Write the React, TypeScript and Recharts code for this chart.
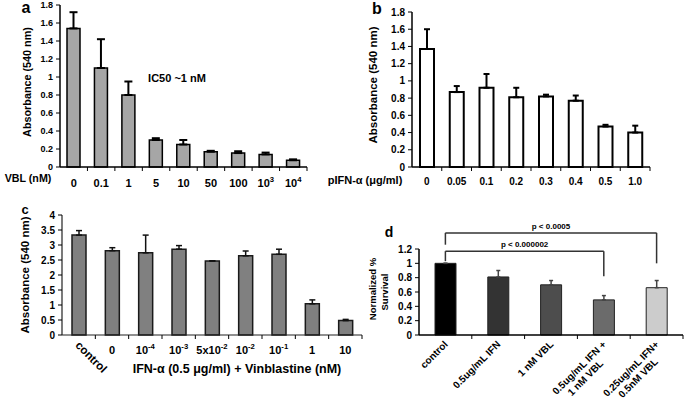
import React from 'react'
import { BarChart, Bar, XAxis, YAxis, ErrorBar, Cell, ReferenceLine } from 'recharts'

const FONT = "'Liberation Sans', Arial, Helvetica, sans-serif"

// a: vinblastine alone
const vblDoses = ['0', '0.1', '1', '5', '10', '50', '100', '10^3', '10^4']
const vblAbs = [1.54, 1.1, 0.8, 0.3, 0.25, 0.17, 0.155, 0.14, 0.075]
const vblSd = [0.18, 0.32, 0.15, 0.02, 0.05, 0.01, 0.02, 0.02, 0.01]
const ticksA = [0, 0.2, 0.4, 0.6, 0.8, 1, 1.2, 1.4, 1.6, 1.8]

// b: pIFN-alpha alone
const ifnDoses = ['0', '0.05', '0.1', '0.2', '0.3', '0.4', '0.5', '1.0']
const ifnAbs = [1.37, 0.87, 0.92, 0.81, 0.82, 0.77, 0.47, 0.4]
const ifnSd = [0.23, 0.07, 0.16, 0.11, 0.02, 0.06, 0.02, 0.08]

// c: IFN 0.5 ug/ml + vinblastine
const comboDoses = ['control', '0', '10^-4', '10^-3', '5x10^-2', '10^-2', '10^-1', '1', '10']
const comboAbs = [3.33, 2.81, 2.74, 2.86, 2.47, 2.64, 2.69, 1.04, 0.48]
const comboSd = [0.15, 0.1, 0.59, 0.12, 0, 0.16, 0.17, 0.13, 0.04]
const ticksC = [0, 0.5, 1, 1.5, 2, 2.5, 3, 3.5, 4]

// d: normalized survival
const survGroups = ['control', '0.5ug/mL IFN', '1 nM VBL', '0.5ug/mL IFN +|1 nM VBL', '0.25ug/mL IFN+|0.5nM VBL']
const survValues = [1.0, 0.81, 0.7, 0.49, 0.66]
const survSd = [0, 0.09, 0.06, 0.06, 0.1]
const survColors = ['#000000', '#333333', '#4d4d4d', '#6b6b6b', '#cccccc']
const ticksD = [0, 0.2, 0.4, 0.6, 0.8, 1, 1.2]

// significance brackets (group indexes, heights in survival units)
const brackets = [
  { from: 0, to: 4, top: 1.425, leftEnd: 1.26, rightEnd: 1.0, text: 'p < 0.0005' },
  { from: 0, to: 3, top: 1.17, leftEnd: 1.03, rightEnd: 0.82, text: 'p < 0.000002' },
]

const dataA = vblDoses.map((dose, i) => ({ dose, value: vblAbs[i], err: [0, vblSd[i]] }))
const dataB = ifnDoses.map((dose, i) => ({ dose, value: ifnAbs[i], err: [0, ifnSd[i]] }))
const dataC = comboDoses.map((dose, i) => ({ dose, value: comboAbs[i], err: [0, comboSd[i]] }))
const dataD = survGroups.map((group, i) => ({ group, value: survValues[i], err: [0, survSd[i]] }))

function DoseTick(props: any) {
  const { x, y, payload, index, dy = 20, size = 10, slantFirst = false } = props
  const half = payload?.offset ?? 0
  const raw = String(payload.value)
  const [base, sup] = raw.split('^')
  const mark = <line x1={x + half} x2={x + half} y1={y} y2={y + 4} stroke="#000" strokeWidth={1} />
  if (slantFirst && index === 0) {
    const ax = x - 4
    const ay = y + 11
    return (
      <g>
        {mark}
        <text x={ax} y={ay} transform={`rotate(45 ${ax} ${ay})`} textAnchor="start" fontSize={size + 0.5}
          fontWeight="bold" fontFamily={FONT} fill="#000">{raw}</text>
      </g>
    )
  }
  return (
    <g>
      {mark}
      <text x={x} y={y + dy} textAnchor="middle" fontSize={size} fontWeight="bold" fontFamily={FONT} fill="#000">
        {base}
        {sup && <tspan fontSize={size * 0.7} dy={-size * 0.45}>{sup}</tspan>}
      </text>
    </g>
  )
}

function SlantTick(props: any) {
  const { x, y, payload } = props
  const half = payload?.offset ?? 0
  const lines = String(payload.value).split('|')
  const ax = x + 3
  const ay = y + 10
  const size = 10
  return (
    <g>
      <line x1={x + half} x2={x + half} y1={y} y2={y + 4} stroke="#000" strokeWidth={1} />
      <text transform={`rotate(-45 ${ax} ${ay})`} textAnchor="end" fontSize={size} fontWeight="bold"
        fontFamily={FONT} fill="#000">
        <tspan x={ax} y={ay}>{lines[0]}</tspan>
        {lines[1] && (
          <tspan x={ax - ((lines[0].length - lines[1].length) * size * 0.52) / 2} y={ay + size * 1.15}>{lines[1]}</tspan>
        )}
      </text>
    </g>
  )
}

function Note({ x, y, size, rotate = 0, children }: any) {
  return (
    <div
      style={{
        position: 'absolute', left: x, top: y, transform: `translate(-50%, -50%) rotate(${rotate}deg)`,
        fontFamily: FONT, fontSize: size, fontWeight: 'bold', whiteSpace: 'nowrap', lineHeight: 1, color: '#000',
      }}
    >
      {children}
    </div>
  )
}

const yTick = (size: number) => ({ fontSize: size, fontWeight: 'bold', fontFamily: FONT, fill: '#000' })
const axisLine = { stroke: '#000', strokeWidth: 1.5 }

export default function App() {
  return (
    <div style={{ position: 'absolute', left: 0, top: 0, width: 685, height: 400, background: '#fff', overflow: 'hidden' }}>
      <div style={{ position: 'absolute', left: 0, top: 0 }}>
        <BarChart width={320} height={200} data={dataA} margin={{ top: 5, right: 13, bottom: 0, left: 0 }}>
          <XAxis dataKey="dose" height={33} interval={0} tickLine={false} tickSize={0} tickMargin={0}
            axisLine={axisLine} tick={(p: any) => <DoseTick {...p} dy={20} size={11} />} />
          <YAxis width={60} domain={[0, 1.8]} ticks={ticksA} interval={0} tickSize={4} tickMargin={3}
            axisLine={axisLine} tickLine={{ stroke: '#000' }} tick={yTick(9)} />
          <Bar dataKey="value" barSize={13} fill="#a6a6a6" stroke="#000" strokeWidth={1.5} isAnimationActive={false}>
            <ErrorBar dataKey="err" width={4} stroke="#000" strokeWidth={2} direction="y" />
          </Bar>
        </BarChart>
      </div>

      <div style={{ position: 'absolute', left: 330, top: 0 }}>
        <BarChart width={355} height={200} data={dataB} margin={{ top: 12, right: 35, bottom: 0, left: 0 }}>
          <XAxis dataKey="dose" height={33} interval={0} tickLine={false} tickSize={0} tickMargin={0}
            axisLine={axisLine} tick={(p: any) => <DoseTick {...p} dy={18} size={10} />} />
          <YAxis width={82} domain={[0, 1.8]} ticks={ticksA} interval={0} tickSize={4} tickMargin={3}
            axisLine={axisLine} tickLine={{ stroke: '#000' }} tick={yTick(10)} />
          <Bar dataKey="value" barSize={14} fill="#ffffff" stroke="#000" strokeWidth={2} isAnimationActive={false}>
            <ErrorBar dataKey="err" width={3} stroke="#000" strokeWidth={2} direction="y" />
          </Bar>
        </BarChart>
      </div>

      <div style={{ position: 'absolute', left: 0, top: 200 }}>
        <BarChart width={380} height={200} data={dataC} margin={{ top: 15, right: 18, bottom: 0, left: 0 }}>
          <XAxis dataKey="dose" height={65} interval={0} tickLine={false} tickSize={0} tickMargin={0}
            axisLine={{ stroke: '#222', strokeWidth: 1.2 }} tick={(p: any) => <DoseTick {...p} dy={19} size={11} slantFirst />} />
          <YAxis width={62} domain={[0, 4]} ticks={ticksC} interval={0} tickSize={4} tickMargin={3}
            axisLine={{ stroke: '#222', strokeWidth: 1.2 }} tickLine={{ stroke: '#000' }} tick={yTick(10)} />
          <Bar dataKey="value" barSize={14} fill="#808080" stroke="#1a1a1a" strokeWidth={1.5} isAnimationActive={false}>
            <ErrorBar dataKey="err" width={3} stroke="#111" strokeWidth={1.5} direction="y" />
          </Bar>
        </BarChart>
      </div>

      <div style={{ position: 'absolute', left: 370, top: 200 }}>
        <BarChart width={315} height={200} data={dataD} margin={{ top: 49, right: 2, bottom: 0, left: 0 }}>
          <XAxis dataKey="group" height={65} interval={0} tickLine={false} tickSize={0} tickMargin={0}
            axisLine={axisLine} tick={(p: any) => <SlantTick {...p} />} />
          <YAxis width={49} domain={[0, 1.2]} ticks={ticksD} interval={0} tickSize={4} tickMargin={3}
            axisLine={axisLine} tickLine={{ stroke: '#000' }} tick={yTick(10)} />
          <Bar dataKey="value" barSize={21} stroke="#222" strokeWidth={1} isAnimationActive={false}>
            {dataD.map((d, i) => (
              <Cell key={d.group} fill={survColors[i]} />
            ))}
            <ErrorBar dataKey="err" width={2} stroke="#444" strokeWidth={1.5} direction="y" />
          </Bar>
          {brackets.map((b) => (
            <ReferenceLine key={b.text + 'h'} ifOverflow="visible" stroke="#333" strokeWidth={1.5}
              segment={[{ x: survGroups[b.from], y: b.top }, { x: survGroups[b.to], y: b.top }]}
              label={{ value: b.text, position: 'top', offset: 4, fontSize: 8, fontWeight: 'bold', fontFamily: FONT, fill: '#000' }} />
          ))}
          {brackets.map((b) => (
            <ReferenceLine key={b.text + 'l'} ifOverflow="visible" stroke="#333" strokeWidth={1.5}
              segment={[{ x: survGroups[b.from], y: b.top }, { x: survGroups[b.from], y: b.leftEnd }]} />
          ))}
          {brackets.map((b) => (
            <ReferenceLine key={b.text + 'r'} ifOverflow="visible" stroke="#333" strokeWidth={1.5}
              segment={[{ x: survGroups[b.to], y: b.top }, { x: survGroups[b.to], y: b.rightEnd }]} />
          ))}
        </BarChart>
      </div>

      <Note x={26} y={8} size={16}>a</Note>
      <Note x={377} y={9} size={16}>b</Note>
      <Note x={25} y={209} size={13}>c</Note>
      <Note x={389} y={232} size={14}>d</Note>

      <Note x={27} y={82} size={10.8} rotate={-90}>Absorbance (540 nm)</Note>
      <Note x={373.5} y={85} size={11.5} rotate={-90}>Absorbance (540 nm)</Note>
      <Note x={26} y={275} size={11.5} rotate={-90}>Absorbance (540 nm)</Note>
      <Note x={373} y={289} size={9.5} rotate={-90}>Normalized %</Note>
      <Note x={385} y={292} size={9.5} rotate={-90}>Survival</Note>

      <Note x={28} y={178} size={10.7}>VBL (nM)</Note>
      <Note x={365} y={180} size={11}>pIFN-α (μg/ml)</Note>
      <Note x={177} y={77.5} size={11}>IC50 ~1 nM</Note>
      <Note x={237} y={369} size={12.5}>IFN-α (0.5 μg/ml) + Vinblastine (nM)</Note>
    </div>
  )
}
